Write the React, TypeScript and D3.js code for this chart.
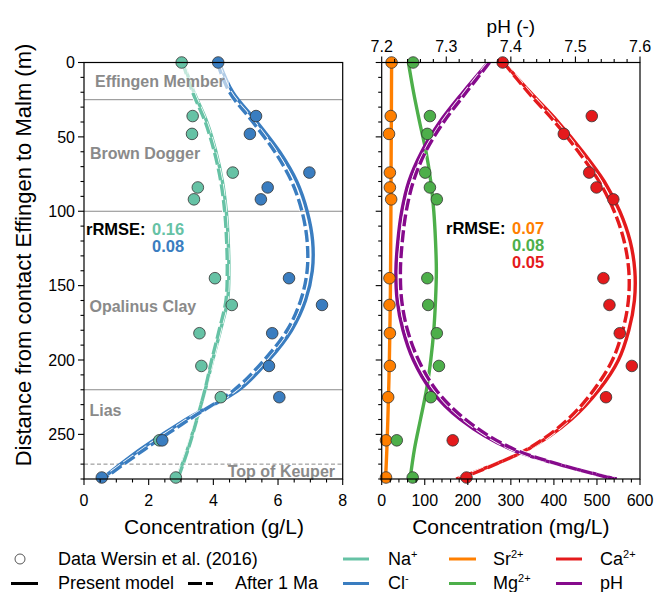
import React from "react";
import * as d3 from "d3";

// ---------- data ----------
const sampleDepth = [0, 36, 48, 74, 84, 92, 145, 163, 182, 204, 225, 254, 279];
const naData = [3.02, 3.36, 3.34, 4.6, 3.52, 3.4, 4.05, 4.57, 3.57, 3.63, 4.23, 2.33, 2.84];
const clData = [4.15, 5.32, 5.13, 6.97, 5.68, 5.47, 6.34, 7.36, 5.82, 5.72, 6.04, 2.42, 0.55];
const srData = [23, 21, 17, 19, 19, 22, 18, 18, 19, 19, 15, 10, 10];
const mgData = [73, 112, 106, 101, 112, 128, 106, 108, 128, 133, 114, 35, 72];
const caData = [281, 488, 423, 482, 499, 538, 515, 529, 553, 581, 521, 165, 197];

const modelDepth = [0, 20, 40, 60, 80, 100, 120, 140, 160, 180, 200, 220, 240, 260, 280];
const naPresent = [3.07, 3.4, 3.8, 4.08, 4.28, 4.4, 4.46, 4.48, 4.44, 4.22, 3.98, 3.75, 3.48, 3.2, 2.87];
const naAfter = [3.05, 3.36, 3.75, 4.03, 4.23, 4.35, 4.41, 4.43, 4.39, 4.18, 3.95, 3.74, 3.49, 3.22, 2.9];
const clPresent = [4.18, 4.6, 5.35, 6.05, 6.58, 6.9, 7.07, 7.06, 6.85, 6.42, 5.72, 4.8, 3.15, 1.75, 0.55];
const clAfter = [4.12, 4.5, 5.22, 5.9, 6.42, 6.74, 6.9, 6.9, 6.7, 6.28, 5.57, 4.65, 3.25, 1.88, 0.6];
const srPresent = [23, 22.7, 22.4, 22, 21.7, 21.4, 21, 20.6, 20, 19, 17.8, 16.2, 14.3, 12, 9];
const mgPresent = [62, 74, 88, 103, 114, 121, 125, 127, 125, 121, 114, 104, 90, 76, 66];
const caPresent = [283, 345, 410, 467, 517, 553, 577, 588, 587, 574, 550, 505, 440, 340, 173];
const caAfter = [283, 340, 402, 457, 505, 540, 563, 574, 573, 560, 536, 493, 432, 338, 180];
const phPresent = [7.365, 7.326, 7.29, 7.262, 7.242, 7.231, 7.225, 7.222, 7.224, 7.233, 7.249, 7.276, 7.322, 7.4, 7.564];
const phAfter = [7.367, 7.331, 7.296, 7.268, 7.249, 7.238, 7.232, 7.229, 7.231, 7.24, 7.257, 7.284, 7.33, 7.405, 7.56];

const layerBounds = [25, 100, 220];
const keuperDepth = 270;
const leftTicksX = [0, 2, 4, 6, 8];
const rightTicksX = [0, 100, 200, 300, 400, 500, 600];
const phTicks = [7.2, 7.3, 7.4, 7.5, 7.6];
const depthTicks = [0, 50, 100, 150, 200, 250];

const C = {
  na: "#66c2a5",
  cl: "#3a7dc0",
  sr: "#ff7f00",
  mg: "#4daf4a",
  ca: "#e41a1c",
  ph: "#860a8c",
};

// ---------- layout ----------
const L = { x0: 84, x1: 342.7 };
const R = { x0: 381.7, x1: 640 };
const Y0 = 62.5, Y1 = 479;
const FONT = "'Liberation Sans', Arial, sans-serif";

export default function App() {
  const y = d3.scaleLinear().domain([0, 280]).range([Y0, Y1]);
  const xL = d3.scaleLinear().domain([0, 8]).range([L.x0, L.x1]);
  const xR = d3.scaleLinear().domain([0, 600]).range([R.x0, R.x1]);
  const xPH = d3.scaleLinear().domain([7.2, 7.6]).range([R.x0, R.x1]);

  const mk = (xs: d3.ScaleLinear<number, number>, vals: number[]) =>
    d3
      .line<number>()
      .x((v) => xs(v))
      .y((_, i) => y(modelDepth[i]))
      .curve(d3.curveCatmullRom)(vals) || "";

  const solid = (d: string, color: string, clip: string) => (
    <path d={d} fill="none" stroke={color} strokeWidth={3.4} clipPath={`url(#${clip})`} />
  );
  const dashed = (d: string, color: string, clip: string) => (
    <g clipPath={`url(#${clip})`}>
      <path d={d} fill="none" stroke="#fff" strokeWidth={5} strokeDasharray="12 4" />
      <path d={d} fill="none" stroke={color} strokeWidth={3.4} strokeDasharray="12 4" />
    </g>
  );
  const pts = (xs: d3.ScaleLinear<number, number>, vals: number[], color: string) =>
    vals.map((v, i) => (
      <circle key={i} cx={xs(v)} cy={y(sampleDepth[i])} r={5.8} fill={color} stroke="#333" strokeWidth={0.8} />
    ));

  const minorDepth = d3.range(0, 281, 10);
  const minorL = d3.range(0, 8.01, 0.5);
  const minorR = d3.range(0, 601, 20);
  const minorPH = d3.range(7.2, 7.6001, 0.02);

  const tk = { stroke: "#000", strokeWidth: 1.1 };

  const layerLabel = (text: string, x: number, yb: number, anchor: string = "start") => (
    <text x={x} y={yb} fontSize={16} fontWeight="bold" fill="#8a8a8a" textAnchor={anchor}>
      {text}
    </text>
  );

  return (
    <svg width={657} height={592} style={{ position: "absolute", left: 0, top: 0 }} fontFamily={FONT}>
      <defs>
        <clipPath id="cl">
          <rect x={L.x0} y={Y0} width={L.x1 - L.x0} height={Y1 - Y0} />
        </clipPath>
        <clipPath id="cr">
          <rect x={R.x0} y={Y0} width={R.x1 - R.x0} height={Y1 - Y0} />
        </clipPath>
      </defs>
      <rect width={657} height={592} fill="#fff" />

      {/* layer boundaries */}
      {layerBounds.map((d) => (
        <line key={d} x1={L.x0} x2={L.x1} y1={y(d)} y2={y(d)} stroke="#8a8a8a" strokeWidth={1} />
      ))}
      <line x1={L.x0} x2={L.x1} y1={y(keuperDepth)} y2={y(keuperDepth)} stroke="#8a8a8a" strokeWidth={1} strokeDasharray="4 2.5" />

      {/* left panel curves */}
      {solid(mk(xL, naPresent), C.na, "cl")}
      {dashed(mk(xL, naAfter), C.na, "cl")}
      {solid(mk(xL, clPresent), C.cl, "cl")}
      {dashed(mk(xL, clAfter), C.cl, "cl")}

      {/* layer labels with translucent boxes */}
      <rect x={91} y={64} width={138} height={29} fill="#fff" fillOpacity={0.6} />
      {layerLabel("Effingen Member", 95, 87)}
      {layerLabel("Brown Dogger", 90, 158.5)}
      {layerLabel("Opalinus Clay", 89.5, 312)}
      {layerLabel("Lias", 89.5, 416)}
      <rect x={224} y={465} width={115} height={14} fill="#fff" fillOpacity={0.6} />
      {layerLabel("Top of Keuper", 335, 477, "end")}

      {pts(xL, naData, C.na)}
      {pts(xL, clData, C.cl)}

      {/* right panel curves */}
      {solid(mk(xR, srPresent), C.sr, "cr")}
      {solid(mk(xR, mgPresent), C.mg, "cr")}
      {solid(mk(xR, caPresent), C.ca, "cr")}
      {dashed(mk(xR, caAfter), C.ca, "cr")}
      {solid(mk(xPH, phPresent), C.ph, "cr")}
      {dashed(mk(xPH, phAfter), C.ph, "cr")}

      {pts(xR, srData, C.sr)}
      {pts(xR, mgData, C.mg)}
      {pts(xR, caData, C.ca)}

      {/* rRMSE */}
      <g fontSize={16.5} fontWeight="bold">
        <text x={86} y={235}>rRMSE:</text>
        <text x={152} y={235} fill={C.na}>0.16</text>
        <text x={152} y={252} fill={C.cl}>0.08</text>
        <text x={446} y={234}>rRMSE:</text>
        <text x={512} y={234} fill={C.sr}>0.07</text>
        <text x={512} y={251} fill={C.mg}>0.08</text>
        <text x={512} y={268} fill={C.ca}>0.05</text>
      </g>

      {/* frames */}
      <rect x={L.x0} y={Y0} width={L.x1 - L.x0} height={Y1 - Y0} fill="none" stroke="#000" strokeWidth={1.2} />
      <rect x={R.x0} y={Y0} width={R.x1 - R.x0} height={Y1 - Y0} fill="none" stroke="#000" strokeWidth={1.2} />

      {/* depth ticks on both panels */}
      {[L.x0, R.x0].map((x0) =>
        minorDepth.map((d) => {
          const major = d % 50 === 0;
          return <line key={`${x0}-${d}`} x1={x0} x2={x0 - (major ? 6 : 3.5)} y1={y(d)} y2={y(d)} {...tk} />;
        })
      )}
      {depthTicks.map((d) => (
        <text key={d} x={75} y={y(d)} dy="0.36em" fontSize={16} textAnchor="end">
          {d}
        </text>
      ))}

      {/* left bottom axis */}
      {minorL.map((v) => {
        const major = Math.abs(v - Math.round(v / 2) * 2) < 1e-6;
        return <line key={v} x1={xL(v)} x2={xL(v)} y1={Y1} y2={Y1 + (major ? 6 : 3.5)} {...tk} />;
      })}
      {leftTicksX.map((v) => (
        <text key={v} x={xL(v)} y={506} fontSize={16} textAnchor="middle">
          {v}
        </text>
      ))}

      {/* right bottom axis */}
      {minorR.map((v) => {
        const major = v % 100 === 0;
        return <line key={v} x1={xR(v)} x2={xR(v)} y1={Y1} y2={Y1 + (major ? 6 : 3.5)} {...tk} />;
      })}
      {rightTicksX.map((v) => (
        <text key={v} x={xR(v)} y={506} fontSize={16} textAnchor="middle">
          {v}
        </text>
      ))}

      {/* top pH axis */}
      {minorPH.map((v, i) => {
        const major = i % 5 === 0;
        return <line key={i} x1={xPH(v)} x2={xPH(v)} y1={Y0} y2={Y0 - (major ? 6 : 3.5)} {...tk} />;
      })}
      {phTicks.map((v) => (
        <text key={v} x={xPH(v)} y={52} fontSize={16} textAnchor="middle">
          {v.toFixed(1)}
        </text>
      ))}

      {/* axis titles */}
      <text x={214} y={534} fontSize={21} textAnchor="middle">Concentration (g/L)</text>
      <text x={(R.x0 + R.x1) / 2} y={534} fontSize={21} textAnchor="middle">Concentration (mg/L)</text>
      <text x={(R.x0 + R.x1) / 2} y={33} fontSize={19} textAnchor="middle">pH (-)</text>
      <text transform="translate(31,255) rotate(-90)" fontSize={22} textAnchor="middle">
        Distance from contact Effingen to Malm (m)
      </text>

      {/* legend */}
      <g fontSize={18}>
        <circle cx={20} cy={559} r={5} fill="none" stroke="#444" strokeWidth={0.9} />
        <text x={58} y={565}>Data Wersin et al. (2016)</text>
        <line x1={11} x2={38} y1={583.5} y2={583.5} stroke="#000" strokeWidth={3} />
        <text x={58} y={589}>Present model</text>
        <line x1={188} x2={213} y1={583.5} y2={583.5} stroke="#000" strokeWidth={3} strokeDasharray="14 4" />
        <text x={235} y={589}>After 1 Ma</text>

        <line x1={343} x2={369} y1={559} y2={559} stroke={C.na} strokeWidth={3} />
        <text x={388} y={565}>Na<tspan dy={-7} fontSize={11}>+</tspan></text>
        <line x1={343} x2={369} y1={583.5} y2={583.5} stroke={C.cl} strokeWidth={3} />
        <text x={388} y={589}>Cl<tspan dy={-7} fontSize={11}>-</tspan></text>

        <line x1={449} x2={476} y1={559} y2={559} stroke={C.sr} strokeWidth={3} />
        <text x={493} y={565}>Sr<tspan dy={-7} fontSize={11}>2+</tspan></text>
        <line x1={449} x2={476} y1={583.5} y2={583.5} stroke={C.mg} strokeWidth={3} />
        <text x={493} y={589}>Mg<tspan dy={-7} fontSize={11}>2+</tspan></text>

        <line x1={556} x2={582} y1={559} y2={559} stroke={C.ca} strokeWidth={3} />
        <text x={600} y={565}>Ca<tspan dy={-7} fontSize={11}>2+</tspan></text>
        <line x1={556} x2={582} y1={583.5} y2={583.5} stroke={C.ph} strokeWidth={3} />
        <text x={600} y={589}>pH</text>
      </g>
    </svg>
  );
}
